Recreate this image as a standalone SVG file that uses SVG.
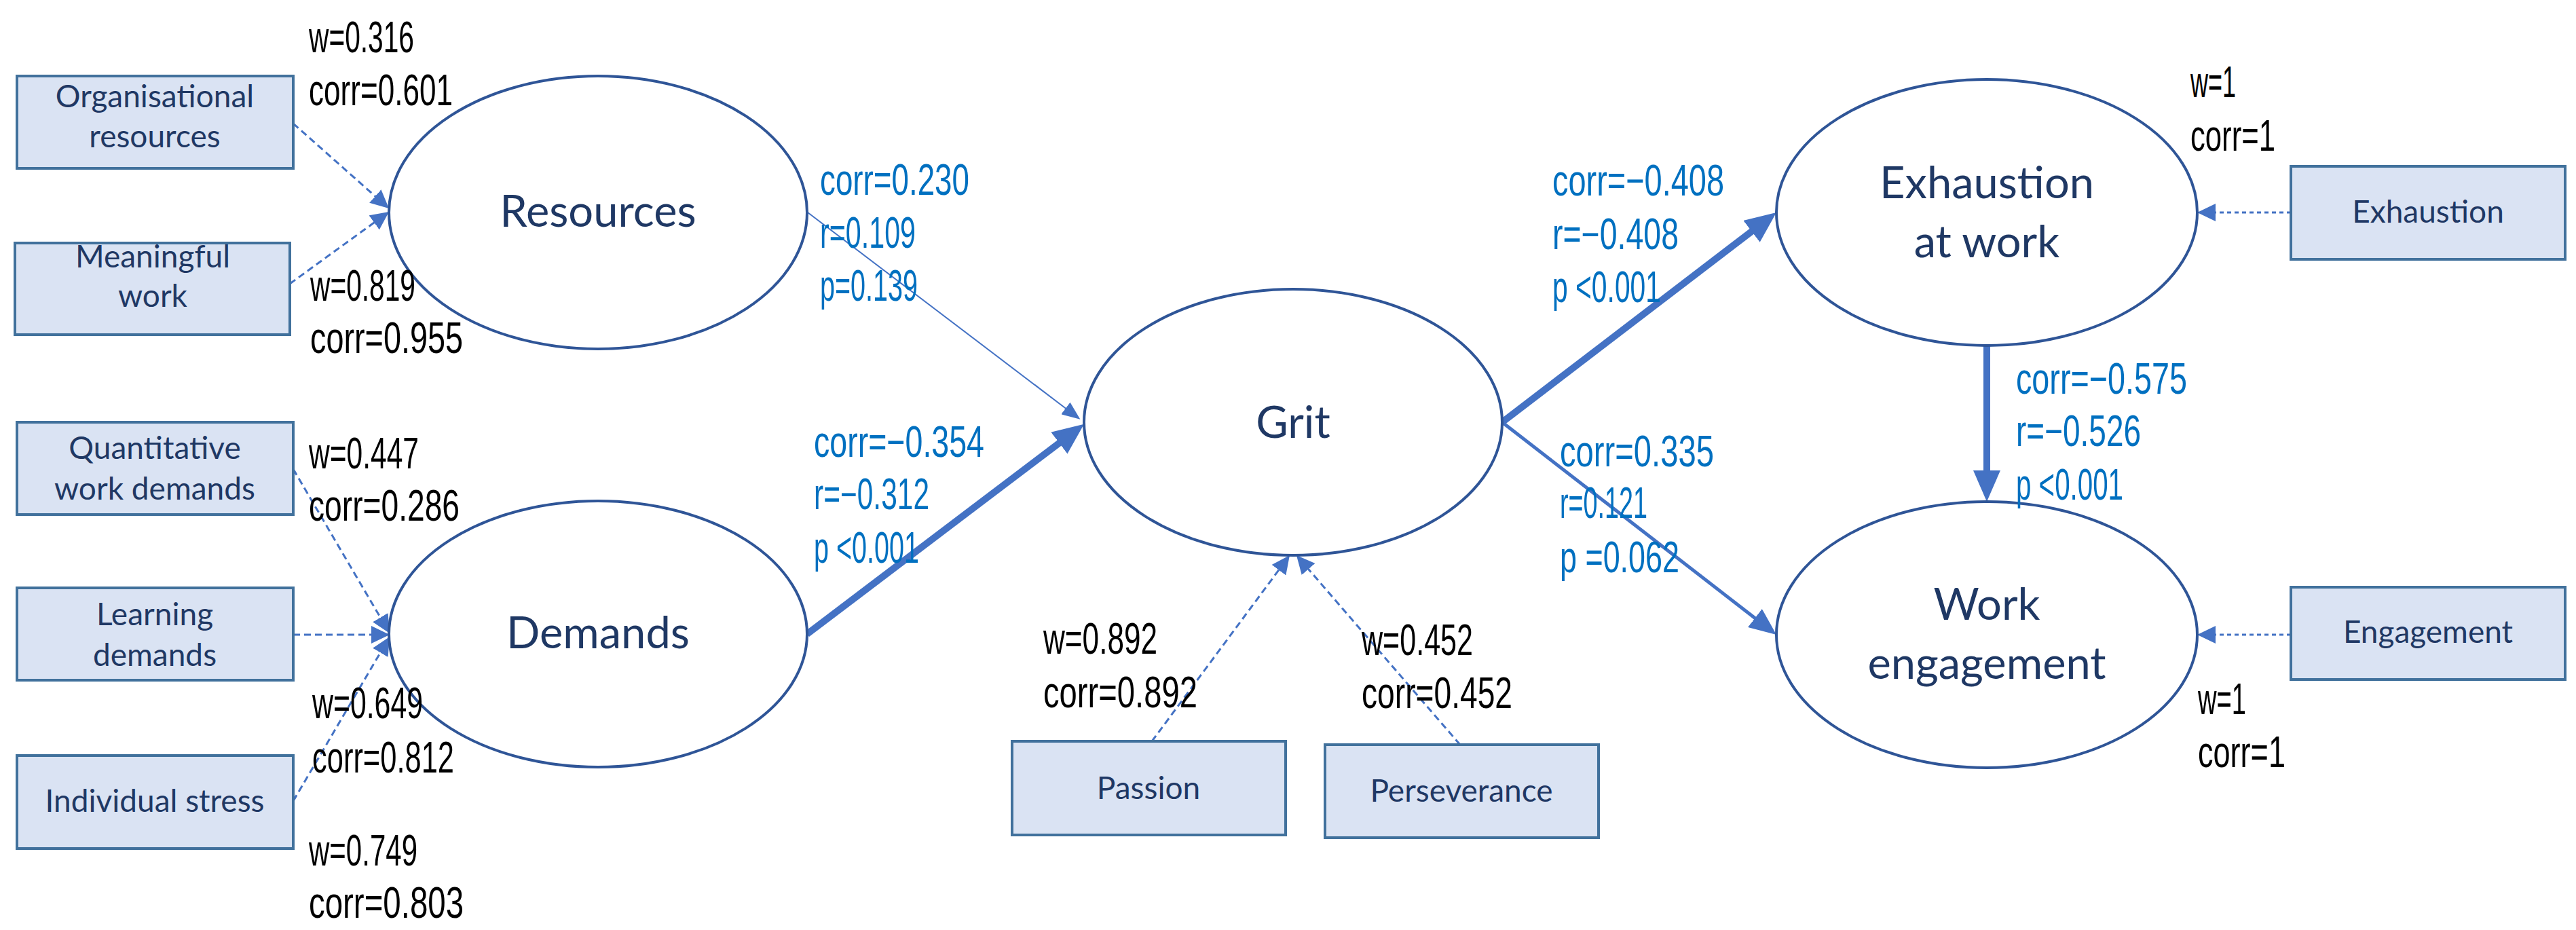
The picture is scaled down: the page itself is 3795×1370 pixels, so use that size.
<svg xmlns="http://www.w3.org/2000/svg" width="3795" height="1370" viewBox="0 0 3795 1370">
<style>
.box{fill:#dae3f3;stroke:#41719c;stroke-width:4}
.ell{fill:#ffffff;stroke:#2f5597;stroke-width:4}
.bt{font-family:Lato,"Open Sans","Liberation Sans",sans-serif;font-size:46px;fill:#1f3864;text-anchor:middle}
.et{font-family:Lato,"Open Sans","Liberation Sans",sans-serif;font-size:65px;fill:#1f3864;text-anchor:middle}
.lb{font-family:"Liberation Sans",Arial,sans-serif;font-size:64px;fill:#000000}
.lr{font-family:"Liberation Sans",Arial,sans-serif;font-size:64px;fill:#0070c0}
.path{stroke:#4472c4;fill:none}
.dash{stroke:#4472c4;fill:none;stroke-width:3;stroke-dasharray:10 6}
.dot{stroke:#4472c4;fill:none;stroke-width:3;stroke-dasharray:6 5}
</style>
<defs>
<marker id="ah-big" markerUnits="userSpaceOnUse" markerWidth="46" markerHeight="40" refX="2" refY="20" orient="auto"><path d="M0,0 L46,20 L0,40 Z" fill="#4472c4"/></marker>
<marker id="ah-med" markerUnits="userSpaceOnUse" markerWidth="40" markerHeight="34" refX="2" refY="17" orient="auto"><path d="M0,0 L40,17 L0,34 Z" fill="#4472c4"/></marker>
<marker id="ah-thin" markerUnits="userSpaceOnUse" markerWidth="27" markerHeight="22" refX="2" refY="11" orient="auto"><path d="M0,0 L27,11 L0,22 Z" fill="#4472c4"/></marker>
<marker id="ah-dash" markerUnits="userSpaceOnUse" markerWidth="27" markerHeight="26" refX="2" refY="13" orient="auto"><path d="M0,0 L27,13 L0,26 Z" fill="#4472c4"/></marker>
</defs>
<rect width="3795" height="1370" fill="#ffffff"/>

<g id="connectors">
<line class="path" stroke-width="2" x1="1190" y1="313" x2="1571.5" y2="602.7" marker-end="url(#ah-thin)"/>
<line class="path" stroke-width="10" x1="1189" y1="934" x2="1562" y2="651.4" marker-end="url(#ah-big)"/>
<line class="path" stroke-width="10" x1="2213" y1="622" x2="2582.1" y2="339.7" marker-end="url(#ah-big)"/>
<line class="path" stroke-width="5" x1="2213" y1="622" x2="2587" y2="911.7" marker-end="url(#ah-med)"/>
<line class="path" stroke-width="10" x1="2927" y1="509" x2="2927" y2="695" marker-end="url(#ah-big)"/>
<line class="dash" x1="432" y1="182" x2="554.3" y2="290.4" marker-end="url(#ah-dash)"/>
<line class="dash" x1="427" y1="418" x2="552.8" y2="326.7" marker-end="url(#ah-dash)"/>
<line class="dash" x1="432" y1="691" x2="561.4" y2="911.4" marker-end="url(#ah-dash)"/>
<line class="dash" x1="432" y1="935" x2="549" y2="935" marker-end="url(#ah-dash)"/>
<line class="dash" x1="432" y1="1180" x2="561.4" y2="959.6" marker-end="url(#ah-dash)"/>
<line class="dash" x1="1697" y1="1092" x2="1885.1" y2="838.1" marker-end="url(#ah-dash)"/>
<line class="dash" x1="2151" y1="1097" x2="1926.3" y2="836.9" marker-end="url(#ah-dash)"/>
<line class="dot" x1="3375" y1="313" x2="3262" y2="313" marker-end="url(#ah-dash)"/>
<line class="dot" x1="3375" y1="935" x2="3262" y2="935" marker-end="url(#ah-dash)"/>
</g>

<g id="node-org-resources"><rect class="box" x="25" y="112" width="407" height="136"/><text class="bt" x="228" y="158">Organisational</text><text class="bt" x="228" y="217">resources</text></g>
<g id="node-meaningful-work"><rect class="box" x="22" y="358" width="405" height="135"/><text class="bt" x="225" y="394">Meaningful</text><text class="bt" x="225" y="452">work</text></g>
<g id="node-quantitative"><rect class="box" x="25" y="622" width="407" height="136"/><text class="bt" x="228" y="676">Quantitative</text><text class="bt" x="228" y="736">work demands</text></g>
<g id="node-learning"><rect class="box" x="25" y="866" width="407" height="136"/><text class="bt" x="228" y="921">Learning</text><text class="bt" x="228" y="981">demands</text></g>
<g id="node-individual-stress"><rect class="box" x="25" y="1113" width="407" height="137"/><text class="bt" x="228" y="1196">Individual stress</text></g>
<g id="node-passion"><rect class="box" x="1491" y="1092" width="403" height="138"/><text class="bt" x="1692" y="1177">Passion</text></g>
<g id="node-perseverance"><rect class="box" x="1952" y="1097" width="403" height="137"/><text class="bt" x="2153" y="1181">Perseverance</text></g>
<g id="node-exhaustion"><rect class="box" x="3375" y="245" width="404" height="137"/><text class="bt" x="3577" y="328">Exhaustion</text></g>
<g id="node-engagement"><rect class="box" x="3375" y="865" width="404" height="136"/><text class="bt" x="3577" y="947">Engagement</text></g>

<g id="node-resources"><ellipse class="ell" cx="881" cy="313" rx="308" ry="201"/><text class="et" x="881" y="334">Resources</text></g>
<g id="node-demands"><ellipse class="ell" cx="881" cy="934" rx="308" ry="196"/><text class="et" x="881" y="955">Demands</text></g>
<g id="node-grit"><ellipse class="ell" cx="1905" cy="622" rx="308" ry="196"/><text class="et" x="1905" y="645">Grit</text></g>
<g id="node-exhaustion-at-work"><ellipse class="ell" cx="2927" cy="313" rx="310" ry="196"/><text class="et" x="2927" y="292">Exhaustion</text><text class="et" x="2927" y="379">at work</text></g>
<g id="node-work-engagement"><ellipse class="ell" cx="2927" cy="935" rx="310" ry="196"/><text class="et" x="2927" y="913">Work</text><text class="et" x="2927" y="1000">engagement</text></g>

<g id="labels-weights">
<text class="lb" x="455" y="77" textLength="155" lengthAdjust="spacingAndGlyphs">w=0.316</text>
<text class="lb" x="455" y="155" textLength="212" lengthAdjust="spacingAndGlyphs">corr=0.601</text>
<text class="lb" x="457" y="443" textLength="155" lengthAdjust="spacingAndGlyphs">w=0.819</text>
<text class="lb" x="457" y="520" textLength="225" lengthAdjust="spacingAndGlyphs">corr=0.955</text>
<text class="lb" x="455" y="690" textLength="162" lengthAdjust="spacingAndGlyphs">w=0.447</text>
<text class="lb" x="455" y="767" textLength="222" lengthAdjust="spacingAndGlyphs">corr=0.286</text>
<text class="lb" x="460" y="1058" textLength="163" lengthAdjust="spacingAndGlyphs">w=0.649</text>
<text class="lb" x="460" y="1138" textLength="209" lengthAdjust="spacingAndGlyphs">corr=0.812</text>
<text class="lb" x="455" y="1275" textLength="160" lengthAdjust="spacingAndGlyphs">w=0.749</text>
<text class="lb" x="455" y="1352" textLength="228" lengthAdjust="spacingAndGlyphs">corr=0.803</text>
<text class="lb" x="1537" y="963" textLength="168" lengthAdjust="spacingAndGlyphs">w=0.892</text>
<text class="lb" x="1537" y="1042" textLength="227" lengthAdjust="spacingAndGlyphs">corr=0.892</text>
<text class="lb" x="2006" y="965" textLength="164" lengthAdjust="spacingAndGlyphs">w=0.452</text>
<text class="lb" x="2006" y="1043" textLength="222" lengthAdjust="spacingAndGlyphs">corr=0.452</text>
<text class="lb" x="3227" y="143" textLength="67" lengthAdjust="spacingAndGlyphs">w=1</text>
<text class="lb" x="3227" y="222" textLength="125" lengthAdjust="spacingAndGlyphs">corr=1</text>
<text class="lb" x="3238" y="1052" textLength="71" lengthAdjust="spacingAndGlyphs">w=1</text>
<text class="lb" x="3238" y="1130" textLength="129" lengthAdjust="spacingAndGlyphs">corr=1</text>
</g>

<g id="labels-paths">
<text class="lr" x="1208" y="287" textLength="220" lengthAdjust="spacingAndGlyphs">corr=0.230</text>
<text class="lr" x="1208" y="365" textLength="141" lengthAdjust="spacingAndGlyphs">r=0.109</text>
<text class="lr" x="1208" y="443" textLength="144" lengthAdjust="spacingAndGlyphs">p=0.139</text>
<text class="lr" x="1199" y="673" textLength="251" lengthAdjust="spacingAndGlyphs">corr=−0.354</text>
<text class="lr" x="1199" y="750" textLength="170" lengthAdjust="spacingAndGlyphs">r=−0.312</text>
<text class="lr" x="1199" y="829" textLength="155" lengthAdjust="spacingAndGlyphs">p &lt;0.001</text>
<text class="lr" x="2287" y="288" textLength="253" lengthAdjust="spacingAndGlyphs">corr=−0.408</text>
<text class="lr" x="2287" y="367" textLength="186" lengthAdjust="spacingAndGlyphs">r=−0.408</text>
<text class="lr" x="2287" y="445" textLength="160" lengthAdjust="spacingAndGlyphs">p &lt;0.001</text>
<text class="lr" x="2298" y="687" textLength="227" lengthAdjust="spacingAndGlyphs">corr=0.335</text>
<text class="lr" x="2298" y="763" textLength="129" lengthAdjust="spacingAndGlyphs">r=0.121</text>
<text class="lr" x="2298" y="843" textLength="176" lengthAdjust="spacingAndGlyphs">p =0.062</text>
<text class="lr" x="2970" y="580" textLength="252" lengthAdjust="spacingAndGlyphs">corr=−0.575</text>
<text class="lr" x="2970" y="657" textLength="184" lengthAdjust="spacingAndGlyphs">r=−0.526</text>
<text class="lr" x="2970" y="736" textLength="158" lengthAdjust="spacingAndGlyphs">p &lt;0.001</text>
</g>
</svg>
